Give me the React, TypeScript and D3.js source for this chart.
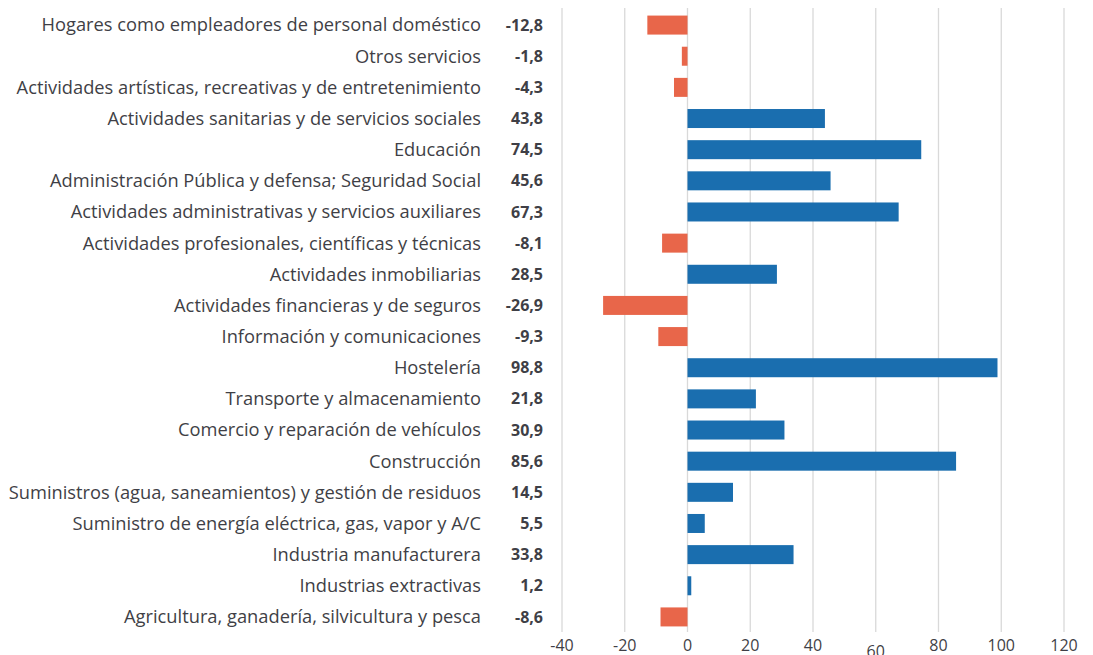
import React from "react";
import * as d3 from "d3";

const categories = [
  "Hogares como empleadores de personal doméstico",
  "Otros servicios",
  "Actividades artísticas, recreativas y de entretenimiento",
  "Actividades sanitarias y de servicios sociales",
  "Educación",
  "Administración Pública y defensa; Seguridad Social",
  "Actividades administrativas y servicios auxiliares",
  "Actividades profesionales, científicas y técnicas",
  "Actividades inmobiliarias",
  "Actividades financieras y de seguros",
  "Información y comunicaciones",
  "Hostelería",
  "Transporte y almacenamiento",
  "Comercio y reparación de vehículos",
  "Construcción",
  "Suministros (agua, saneamientos) y gestión de residuos",
  "Suministro de energía eléctrica, gas, vapor y A/C",
  "Industria manufacturera",
  "Industrias extractivas",
  "Agricultura, ganadería, silvicultura y pesca",
];

const values = [
  -12.8, -1.8, -4.3, 43.8, 74.5, 45.6, 67.3, -8.1, 28.5, -26.9, -9.3, 98.8, 21.8,
  30.9, 85.6, 14.5, 5.5, 33.8, 1.2, -8.6,
];

const ticks = [-40, -20, 0, 20, 40, 60, 80, 100, 120];

const W = 1093;
const H = 655;
const FONT = "'Open Sans', sans-serif";
const TEXT = "#3f3f46";

export default function App() {
  const x = d3.scaleLinear().domain([-40, 120]).range([562, 1064]);
  const y = d3
    .scaleBand<string>()
    .domain(categories)
    .range([9.5, 632.5])
    .paddingInner(0.39)
    .paddingOuter(0.195);
  const fmt = (v: number) => v.toFixed(1).replace(".", ",");
  return (
    <svg
      width={W}
      height={H}
      style={{ position: "absolute", left: 0, top: 0, background: "#fff" }}
      fontFamily={FONT}
    >
      {ticks.map((t) => (
        <line
          key={"g" + t}
          x1={x(t)}
          x2={x(t)}
          y1={8}
          y2={632}
          stroke="#d9d9d9"
          strokeWidth={1.3}
        />
      ))}
      {categories.map((c, i) => {
        const v = values[i];
        const yy = y(c)!;
        const cy = yy + y.bandwidth() / 2;
        return (
          <g key={c}>
            <rect
              x={Math.min(x(0), x(v))}
              y={yy}
              width={Math.abs(x(v) - x(0))}
              height={y.bandwidth()}
              fill={v < 0 ? "#e8664a" : "#1a6eaf"}
            />
            <text
              x={481}
              y={cy}
              dy="0.35em"
              textAnchor="end"
              fontSize={18.3}
              fill={TEXT}
            >
              {c}
            </text>
            <text
              x={543}
              y={cy}
              dy="0.35em"
              textAnchor="end"
              fontSize={16}
              fontWeight="bold"
              fill={TEXT}
            >
              {fmt(v)}
            </text>
          </g>
        );
      })}
      {ticks.map((t) => (
        <text
          key={"t" + t}
          x={x(t)}
          y={t === 60 ? 651 : 645}
          dy="0.35em"
          textAnchor="middle"
          fontSize={16}
          fill={TEXT}
        >
          {t}
        </text>
      ))}
    </svg>
  );
}
